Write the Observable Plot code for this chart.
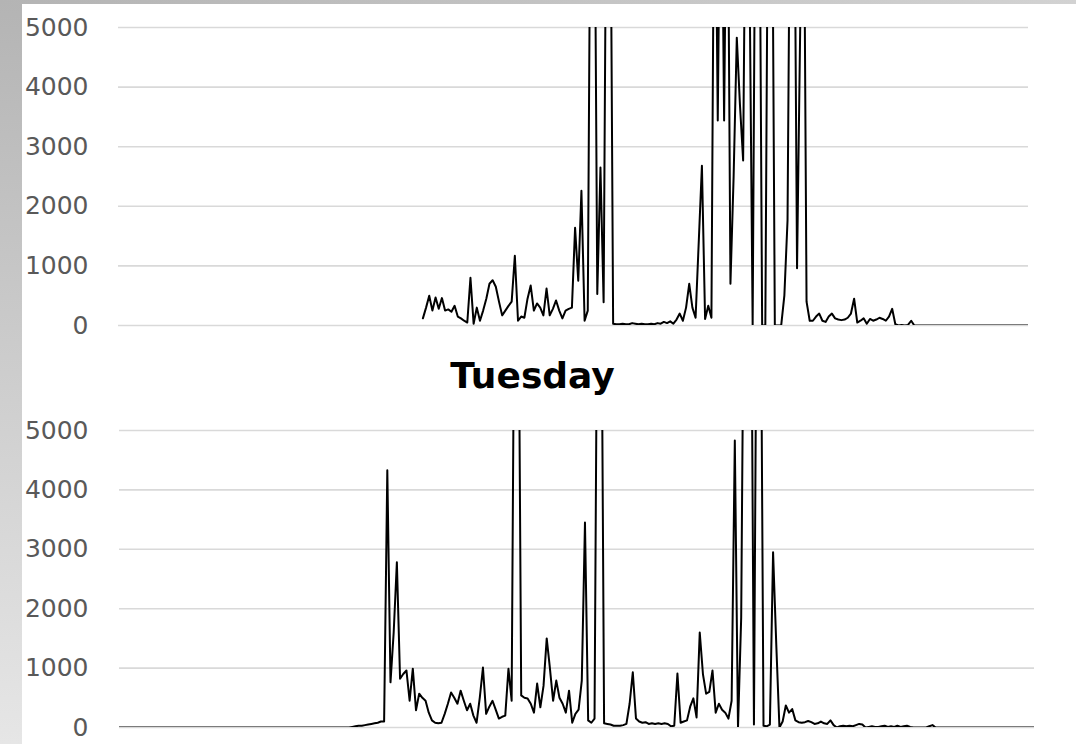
<!DOCTYPE html>
<html>
<head>
<meta charset="utf-8">
<script src="https://cdn.jsdelivr.net/npm/d3@7"></script>
<script src="https://cdn.jsdelivr.net/npm/@observablehq/plot@0.6"></script>
<style>
  html, body { margin: 0; padding: 0; }
  body { width: 1076px; height: 744px; overflow: hidden; position: relative; background: #fff; font-family: "DejaVu Sans", sans-serif; }
  #band-left { position: absolute; left: 0; top: 0; width: 22px; height: 744px; background: linear-gradient(to bottom, #b4b4b4, #e6e6e6); }
  #band-top { position: absolute; left: 0; top: 0; width: 1076px; height: 4px; background: linear-gradient(to right, #b4b4b4, #d2d2d2); }
  #monday { position: absolute; left: 0; top: 0; }
  #tuesday { position: absolute; left: 0; top: 400px; }
  #title { position: absolute; left: 0; width: 1065px; top: 358px; text-align: center; font: bold 36px "DejaVu Sans", sans-serif; line-height: 1; color: #000; }
</style>
</head>
<body>
<div id="band-left"></div>
<div id="band-top"></div>
<div id="monday"></div>
<div id="title"></div>
<div id="tuesday"></div>
<script>
// 5-minute slots over one day (0 .. 287)
const slotCount = 288;
const yTicks = [0, 1000, 2000, 3000, 4000, 5000];
const tuesdayTitle = "Tuesday";

// Monday: readings start at slot 96 (08:00)
const mondayStartSlot = 96;
const mondayValues = [
  120, 300, 500, 250, 470, 280, 460, 250, 270, 230,
  330, 150, 120, 80, 50, 800, 30, 300, 80, 250,
  450, 700, 760, 650, 400, 170, 250, 330, 400, 1170,
  80, 150, 130, 450, 670, 250, 370, 300, 170, 620,
  170, 280, 420, 250, 120, 250, 280, 300, 1640, 750,
  2260, 80, 250, 9000, 9000, 530, 2650, 390, 9000, 9000,
  30, 20, 20, 30, 20, 20, 40, 30, 20, 30,
  20, 20, 30, 20, 40, 30, 60, 40, 70, 30,
  100, 200, 80, 300, 700, 300, 130, 1400, 2680, 110,
  330, 130, 9000, 3440, 9000, 3440, 9000, 700, 2500, 4830,
  3700, 2770, 9000, 6000, 0, 9000, 9000, 0, 0, 9000,
  9000, 0, 0, 0, 500, 1760, 9000, 9000, 960, 5000,
  9000, 400, 80, 80, 150, 200, 80, 60, 150, 200,
  120, 100, 90, 100, 130, 200, 450, 50, 80, 120,
  30, 110, 80, 100, 130, 110, 80, 150, 280, 20,
  0, 10, 0, 10, 80, 0, 0, 0, 0, 0,
  0, 0, 0, 0, 0, 0, 0, 0, 0, 0,
  0, 0, 0, 0, 0, 0, 0, 0, 0, 0,
  0, 0, 0, 0, 0, 0, 0, 0, 0, 0,
  0, 0
];

// Tuesday: full day, slot 0 onwards
const tuesdayValues = [
  0, 0, 0, 0, 0, 0, 0, 0, 0, 0,
  0, 0, 0, 0, 0, 0, 0, 0, 0, 0,
  0, 0, 0, 0, 0, 0, 0, 0, 0, 0,
  0, 0, 0, 0, 0, 0, 0, 0, 0, 0,
  0, 0, 0, 0, 0, 0, 0, 0, 0, 0,
  0, 0, 0, 0, 0, 0, 0, 0, 0, 0,
  0, 0, 0, 0, 0, 0, 0, 0, 0, 0,
  0, 0, 0, 10, 20, 30, 30, 40, 50, 60,
  70, 80, 100, 100, 4330, 760, 1600, 2780, 820, 900,
  960, 450, 990, 290, 570, 500, 450, 250, 120, 80,
  70, 80, 230, 400, 590, 500, 400, 620, 450, 290,
  400, 200, 80, 500, 1010, 230, 350, 450, 300, 150,
  180, 200, 990, 450, 9000, 9000, 540, 500, 490, 400,
  250, 740, 340, 700, 1500, 1000, 450, 790, 500, 400,
  250, 620, 80, 230, 300, 790, 3450, 120, 80, 150,
  9000, 9000, 70, 60, 50, 30, 30, 30, 40, 60,
  400, 930, 150, 100, 80, 90, 60, 70, 60, 70,
  60, 70, 60, 20, 30, 910, 80, 100, 120, 350,
  490, 170, 1600, 900, 570, 600, 960, 250, 400, 300,
  250, 150, 450, 4830, 0, 1850, 9000, 9000, 9000, 50,
  9000, 9000, 30, 20, 50, 2950, 1400, 0, 100, 370,
  250, 310, 120, 90, 80, 90, 110, 90, 60, 70,
  100, 70, 60, 120, 40, 0, 20, 30, 20, 30,
  20, 40, 60, 50, 0, 10, 20, 10, 10, 20,
  30, 10, 20, 10, 30, 10, 20, 30, 10, 0,
  0, 0, 0, 0, 20, 40, 0, 0, 0, 0,
  0, 0, 0, 0, 0, 0, 0, 0, 0, 0,
  0, 0, 0, 0, 0, 0, 0, 0, 0, 0,
  0, 0, 0, 0, 0, 0, 0, 0
];

const mondayRows = mondayValues.map((v, k) => ({slot: mondayStartSlot + k, value: v}));
const tuesdayRows = tuesdayValues.map((v, k) => ({slot: k, value: v}));

function panel(rows, opts) {
  return Plot.plot({
    width: 1076,
    height: opts.height,
    marginLeft: opts.marginLeft,
    marginRight: opts.marginRight,
    marginTop: opts.marginTop,
    marginBottom: opts.marginBottom,
    x: {domain: [0, slotCount - 1], axis: null},
    y: {domain: [0, 5000], label: null, axis: null},
    style: {background: "transparent", fontFamily: "DejaVu Sans, sans-serif", overflow: "visible"},
    marks: [
      Plot.gridY(yTicks, {stroke: "#d9d9d9", strokeOpacity: 1, strokeWidth: 1.6}),
      Plot.axisY(yTicks, {
        tickSize: 0,
        tickPadding: opts.marginLeft - 88,
        fontSize: 25,
        fill: "#595959",
        label: null,
        tickFormat: d => String(d)
      }),
      Plot.lineY(rows, {x: "slot", y: "value", stroke: "#000", strokeWidth: 2, clip: true})
    ]
  });
}

document.getElementById("monday").appendChild(
  panel(mondayRows, {height: 345, marginLeft: 118, marginRight: 48, marginTop: 27, marginBottom: 20})
);
document.getElementById("tuesday").appendChild(
  panel(tuesdayRows, {height: 344, marginLeft: 119, marginRight: 42, marginTop: 30, marginBottom: 17})
);
document.getElementById("title").textContent = tuesdayTitle;
</script>
</body>
</html>
